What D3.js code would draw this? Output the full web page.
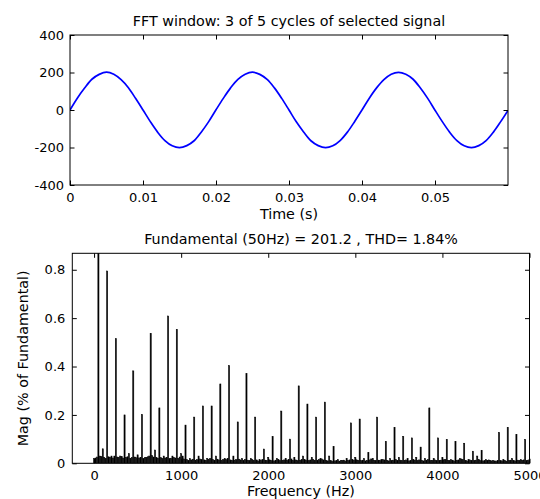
<!DOCTYPE html>
<html><head><meta charset="utf-8">
<script src="https://cdn.jsdelivr.net/npm/d3@7"></script>
<style>
body{margin:0;background:#fff}
text{font-family:"DejaVu Sans",sans-serif;fill:#000}
</style>
</head><body>
<svg id="c" width="540" height="499"></svg>
<script>
// ---------- data ----------
const topTitle = "FFT window: 3 of 5 cycles of selected signal";
const topXLabel = "Time (s)";
const botTitle = "Fundamental (50Hz) = 201.2 , THD= 1.84%";
const botXLabel = "Frequency (Hz)";
const botYLabel = "Mag (% of Fundamental)";

const timeTicks = [0, 0.01, 0.02, 0.03, 0.04, 0.05];
const voltTicks = [-400, -200, 0, 200, 400];
const freqTicks = [0, 1000, 2000, 3000, 4000, 5000];
const magTicks = [0, 0.2, 0.4, 0.6, 0.8];

const sampleStep = 0.001; // s
const signalValues = [
  0, 63, 117, 164, 190, 202, 191, 162, 119, 61,
  0, -62, -118, -163, -191, -201, -190, -164, -117, -62,
  1, 62, 118, 163, 191, 202, 190, 163, 118, 62,
  0, -63, -117, -164, -190, -201, -191, -163, -118, -61,
  0, 63, 118, 162, 191, 201, 191, 164, 117, 62,
  -1, -62, -118, -163, -191, -201, -190, -163, -118, -62,
  -2
];

const fundamentalHz = 50;
const binsPerHarmonic = 3;
// magnitude (% of fundamental) at harmonic orders 0..100
const harmonicMag = [
  0.020, 100, 0.060, 0.795, 0.030, 0.515, 0.030, 0.200, 0.040, 0.382,
  0.035, 0.202, 0.025, 0.537, 0.055, 0.229, 0.030, 0.609, 0.030, 0.554,
  0.040, 0.158, 0.020, 0.191, 0.030, 0.237, 0.020, 0.237, 0.030, 0.328,
  0.020, 0.404, 0.030, 0.171, 0.020, 0.371, 0.020, 0.191, 0.015, 0.059,
  0.025, 0.111, 0.020, 0.216, 0.020, 0.100, 0.025, 0.320, 0.030, 0.245,
  0.025, 0.191, 0.020, 0.253, 0.030, 0.070, 0.015, 0.012, 0.020, 0.167,
  0.025, 0.183, 0.020, 0.045, 0.020, 0.191, 0.015, 0.091, 0.020, 0.149,
  0.025, 0.111, 0.020, 0.105, 0.025, 0.067, 0.020, 0.229, 0.020, 0.105,
  0.025, 0.099, 0.015, 0.091, 0.020, 0.083, 0.015, 0.050, 0.030, 0.054,
  0.015, 0.012, 0.010, 0.128, 0.015, 0.149, 0.020, 0.120, 0.015, 0.099,
  0.015
];
// interharmonic bins (two per 50 Hz gap), in 0.001 % of fundamental
const floorMag = [
  22,26, 30,28, 24,20, 27,25, 22,30, 26,24, 28,22, 25,27, 21,24, 26,23,
  22,25, 20,23, 27,30, 32,26, 24,21, 23,20, 22,25, 19,21, 24,22, 20,26,
  30,18, 15,12, 14,17, 13,16, 18,15, 14,12, 16,19, 15,13, 17,14, 12,15,
  16,20, 14,12, 13,15, 17,14, 12,16, 13,11, 15,12, 14,10, 12,15, 13,11,
  14,12, 10,13, 15,11, 12,14, 13,16, 18,12, 14,11, 12,15, 16,13, 11,14,
  15,12, 13,16, 18,14, 12,10, 11,9, 10,12, 9,11, 13,10, 12,14, 16,13,
  14,12, 11,13, 10,12, 14,18, 12,11, 13,12, 15,14, 12,10, 11,13, 15,12,
  13,11, 12,14, 10,12, 16,13, 11,14, 12,10, 13,15, 11,12, 14,11, 12,13,
  14,16, 12,11, 13,10, 12,14, 18,15, 12,10, 14,12, 11,13, 15,12, 10,11,
  12,14, 10,11, 9,12, 11,10, 12,9, 11,13, 12,10, 13,11, 12,14, 11,13
];

// ---------- build ----------
const svg = d3.select("#c");
const tickFont = "13px", labelFont = "14.3px";
const binHz = fundamentalHz / binsPerHarmonic;
const plain = d => String(d);

const bins = [];
harmonicMag.forEach((m, h) => bins.push({f: h * fundamentalHz, m}));
floorMag.forEach((m, i) => {
  const gap = Math.floor(i / 2), k = i % 2 + 1;
  bins.push({f: gap * fundamentalHz + k * binHz, m: m / 1000});
});

function frame(g, x, y, xt, yt, tickLen, xPad, yPad) {
  const [x0, x1] = x.range(), [y1, y0] = y.range();
  g.append("g").attr("transform", `translate(0,${y1})`)
    .call(d3.axisBottom(x).tickValues(xt).tickSize(-tickLen).tickPadding(xPad).tickFormat(plain))
    .call(a => a.select(".domain").remove());
  g.append("g").attr("transform", `translate(0,${y0})`)
    .call(d3.axisTop(x).tickValues(xt).tickSize(-tickLen).tickFormat(""))
    .call(a => a.select(".domain").remove());
  g.append("g").attr("transform", `translate(${x0},0)`)
    .call(d3.axisLeft(y).tickValues(yt).tickSize(-tickLen).tickPadding(yPad).tickFormat(plain))
    .call(a => a.select(".domain").remove());
  g.append("g").attr("transform", `translate(${x1},0)`)
    .call(d3.axisRight(y).tickValues(yt).tickSize(-tickLen).tickFormat(""))
    .call(a => a.select(".domain").remove());
  g.selectAll(".tick line").attr("stroke", "#000");
  g.selectAll(".tick text").style("font-size", tickFont).attr("fill", "#000");
  g.selectAll("g").attr("font-family", null).attr("font-size", null);
  g.append("rect").attr("x", x0).attr("y", y0).attr("width", x1 - x0).attr("height", y1 - y0)
    .attr("fill", "none").attr("stroke", "#000").attr("stroke-width", 1);
}

// top panel
const xT = d3.scaleLinear().domain([0, 0.06]).range([70, 508]);
const yT = d3.scaleLinear().domain([-400, 400]).range([185, 35]);
const gT = svg.append("g");
gT.append("defs").append("clipPath").attr("id", "clipT").append("rect")
  .attr("x", 70).attr("y", 35).attr("width", 438).attr("height", 150);
const line = d3.line().x((d, i) => xT(i * sampleStep)).y(d => yT(d)).curve(d3.curveCatmullRom);
gT.append("path").datum(signalValues).attr("d", line).attr("clip-path", "url(#clipT)")
  .attr("fill", "none").attr("stroke", "#0000ff").attr("stroke-width", 1.7);
frame(gT, xT, yT, timeTicks, voltTicks, 4.5, 8, 6);
gT.append("text").attr("x", 289).attr("y", 25.5).attr("text-anchor", "middle")
  .style("font-size", labelFont).text(topTitle);
gT.append("text").attr("x", 289).attr("y", 218.5).attr("text-anchor", "middle")
  .style("font-size", labelFont).text(topXLabel);

// bottom panel
const xB = d3.scaleLinear().domain([-250, 5000]).range([72.3, 529.5]);
const yB = d3.scaleLinear().domain([0, 0.868]).range([463.3, 253.3]);
const gB = svg.append("g");
gB.append("defs").append("clipPath").attr("id", "clipB").append("rect")
  .attr("x", 72.3).attr("y", 253.3).attr("width", 457.2).attr("height", 210);
const barW = xB(binHz * 0.8) - xB(0);
gB.append("g").attr("clip-path", "url(#clipB)").selectAll("rect").data(bins).join("rect")
  .attr("x", d => xB(d.f) - barW / 2)
  .attr("width", barW)
  .attr("y", d => yB(d.m))
  .attr("height", d => yB(0) - yB(d.m))
  .attr("fill", "#000").attr("stroke", "#000").attr("stroke-width", 0.5);
frame(gB, xB, yB, freqTicks, magTicks, 4.5, 7, 7);
gB.append("text").attr("x", 301).attr("y", 244).attr("text-anchor", "middle")
  .style("font-size", labelFont).text(botTitle);
gB.append("text").attr("x", 301).attr("y", 495.5).attr("text-anchor", "middle")
  .style("font-size", labelFont).text(botXLabel);
gB.append("text").attr("transform", "translate(27.5,358.3) rotate(-90)").attr("text-anchor", "middle")
  .style("font-size", labelFont).text(botYLabel);
</script>
</body></html>
